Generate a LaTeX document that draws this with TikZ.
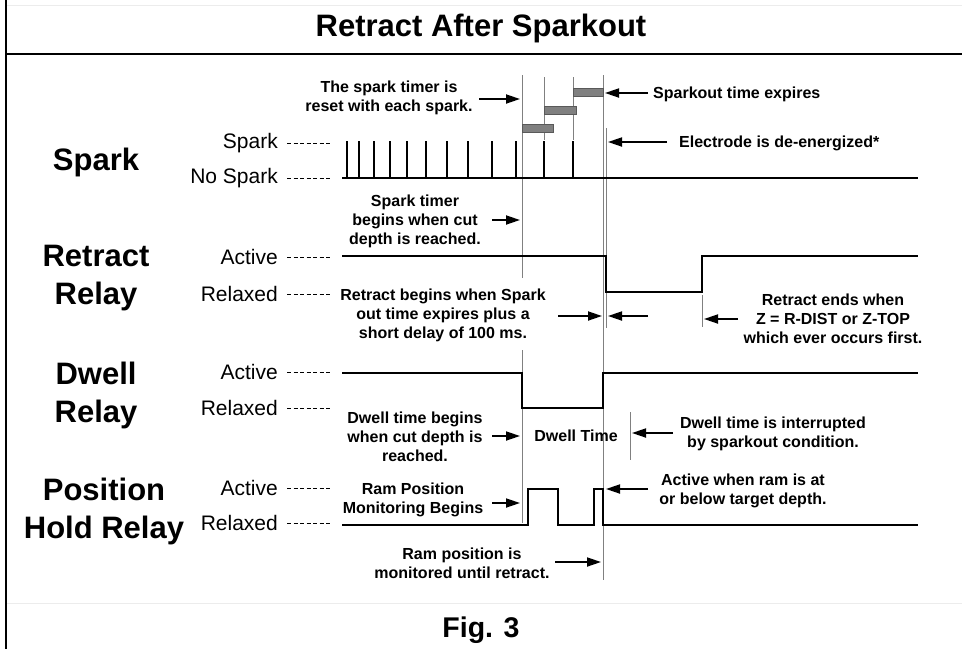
\documentclass[tikz,border=0pt]{standalone}
\usepackage{fontspec}
\setmainfont{Liberation Sans}
\usetikzlibrary{arrows.meta, positioning}

\tikzset{
  sig/.style={line width=1.8pt},
  guide/.style={draw=gray, line width=0.9pt},
  lead/.style={line width=0.8pt, dash pattern=on 4pt off 2.5pt},
  note/.style={font=\bfseries\fontsize{16}{19}\selectfont, align=center, inner sep=0pt},
  biglbl/.style={font=\bfseries\fontsize{31}{38}\selectfont, align=center, inner sep=0pt},
  lvl/.style={font=\fontsize{21}{25}\selectfont, anchor=east, inner sep=0pt},
  ptr/.style={-{Triangle[length=14pt,width=9pt]}, line width=1.8pt},
  timebar/.style={fill=gray, draw=gray!70!black, line width=0.6pt}
}

\begin{document}
\begin{tikzpicture}[x=1pt,y=-1pt]
\useasboundingbox (0,0) rectangle (962,649);

% frame
\draw[gray!15] (6,5) -- (962,5);
\draw[gray!15] (6,603) -- (962,603);
\draw[line width=2pt] (6,0) -- (6,649);
\draw[line width=2pt] (6,54) -- (962,54);
\node[font=\bfseries\fontsize{31}{36}\selectfont, anchor=base] (title) at (481,36) {Retract After Sparkout};
\node[font=\bfseries\fontsize{28.5}{34}\selectfont, anchor=base] (fig) at (481,637) {Fig. 3};

% signal names
\node[biglbl, anchor=base] (spark) at (96,170) {Spark};
\node[biglbl] (retract) at (96,278) {Retract\\Relay};
\node[biglbl] (dwell) at (96,395) {Dwell\\Relay};
\node[biglbl] (hold) at (104,511) {Position\\Hold Relay};

% levels
\foreach \nm/\txt/\yy in {lsp/Spark/143, lns/No Spark/178, lra/Active/257, lrr/Relaxed/294,
    lda/Active/372, ldr/Relaxed/408, lpa/Active/488, lpr/Relaxed/523}
  {\node[lvl] (\nm) at (278,\yy) {\txt};
   \draw[lead] ([xshift=9pt]\nm.east) -- ++(43,0);}

% guides and spark timer
\draw[guide] (522,75) -- (522,278) (522,350) -- (522,523);
\draw[guide] (603,75) -- (603,580);
\draw[guide] (606,128) -- (606,328);
\draw[guide] (702,295) -- (702,327);
\draw[guide] (630,412) -- (630,460);
\draw[guide] (544,77) -- (544,140) (573,77) -- (573,140);
\draw[timebar] (522,124) rectangle (553,132);
\draw[timebar] (544,106) rectangle (576,114);
\draw[timebar] (573,88) rectangle (603,96);

% traces
\draw[sig] (342,178) -- (918,178);
\foreach \x in {347,359,374,390,407,426,447,468,492,516,544,573}
  \draw[sig] (\x,178) -- (\x,141);
\draw[sig] (342,256) -- (606,256) -- (606,292) -- (702,292) -- (702,256) -- (918,256);
\draw[sig] (342,373) -- (522,373) -- (522,408) -- (603,408) -- (603,373) -- (918,373);
\draw[sig] (342,525) -- (528,525) -- (528,489) -- (558,489) -- (558,525) -- (594,525)
  -- (594,489) -- (603,489) -- (603,525) -- (918,525);

% notes
\node[note] (nreset) at (389,98) {The spark timer is\\reset with each spark.};
\node[note, anchor=west] (nexpire) at (653,94) {Sparkout time expires};
\node[note, anchor=west] (nelec) at (679,143) {Electrode is de-energized*};
\node[note] (ntimer) at (415,221) {Spark timer\\begins when cut\\depth is reached.};
\node[note] (nrbegin) at (443,315) {Retract begins when Spark\\out time expires plus a\\short delay of 100 ms.};
\node[note] (nrend) at (833,319) {Retract ends when\\Z = R-DIST or Z-TOP\\which ever occurs first.};
\node[note] (ndbegin) at (415,437) {Dwell time begins\\when cut depth is\\reached.};
\node[note] (ndtime) at (576,436) {Dwell Time};
\node[note] (ndint) at (773,434) {Dwell time is interrupted\\by sparkout condition.};
\node[note] (nram) at (413,500) {Ram Position\\Monitoring Begins};
\node[note] (nact) at (743,491) {Active when ram is at\\or below target depth.};
\node[note] (nmon) at (462,563) {Ram position is\\monitored until retract.};

% arrows
\foreach \a/\b/\y [count=\i] in {479/520/99, 648/605/93, 667/608/142, 492/520/220,
    558/602/316, 648/608/316, 738/704/319, 492/520/436, 673/632/433,
    492/520/503, 648/606/489, 555/601/562}
  {\coordinate (t\i) at (\a,\y);
   \coordinate (h\i) at (\b,\y);
   \draw[ptr] (t\i) -- (h\i);}
\end{tikzpicture}
\end{document}
